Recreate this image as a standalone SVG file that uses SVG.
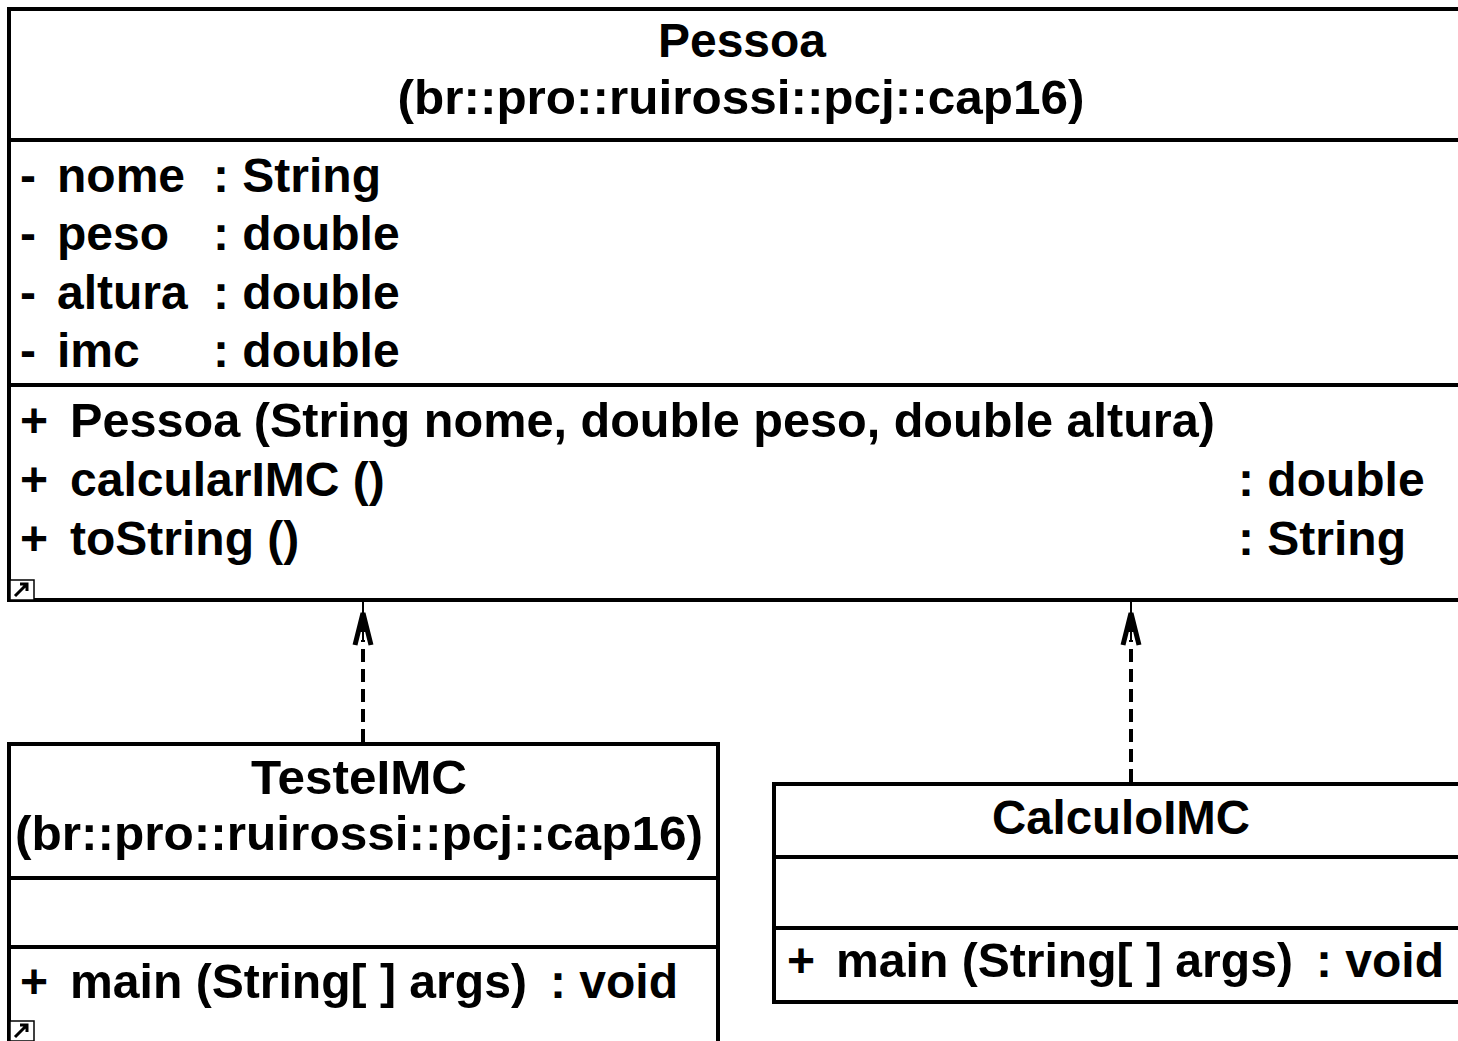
<svg xmlns="http://www.w3.org/2000/svg" width="1458" height="1041" viewBox="0 0 1458 1041">
<style>
text{font-family:"Liberation Sans",Arial,sans-serif;font-weight:bold;font-size:48px;fill:#000}
.c{text-anchor:middle}
.box{fill:#fff;stroke:#000;stroke-width:4}
.sep{stroke:#000;stroke-width:4}
.dash{stroke:#000;stroke-width:4;stroke-dasharray:13 7;fill:none}
.head{stroke:#000;stroke-width:5;fill:none;stroke-linejoin:miter}
.icon{fill:#fff;stroke:#000;stroke-width:1.5}
</style>
<rect width="1458" height="1041" fill="#fff"/>
<g id="Pessoa">
<rect class="box" x="9" y="9" width="1470" height="591"/>
<line class="sep" x1="9" y1="140" x2="1460" y2="140"/>
<line class="sep" x1="9" y1="385" x2="1460" y2="385"/>
<text class="c" x="742" y="57" textLength="168" lengthAdjust="spacingAndGlyphs">Pessoa</text>
<text class="c" x="741" y="114" textLength="687" lengthAdjust="spacingAndGlyphs">(br::pro::ruirossi::pcj::cap16)</text>
<text x="20" y="192">-</text><text x="57" y="192">nome</text><text x="213" y="192">: String</text>
<text x="20" y="250">-</text><text x="57" y="250">peso</text><text x="213" y="250">: double</text>
<text x="20" y="309">-</text><text x="57" y="309">altura</text><text x="213" y="309">: double</text>
<text x="20" y="367">-</text><text x="57" y="367">imc</text><text x="213" y="367">: double</text>
<text x="20" y="437">+</text><text x="70" y="437" textLength="1145" lengthAdjust="spacingAndGlyphs">Pessoa (String nome, double peso, double altura)</text>
<text x="20" y="496">+</text><text x="70" y="496">calcularIMC ()</text><text x="1238" y="496">: double</text>
<text x="20" y="555">+</text><text x="70" y="555">toString ()</text><text x="1238" y="555">: String</text>
<rect class="icon" x="10" y="580" width="24" height="20"/>
<path d="M15 596 L27 584 M20 584 L27 584 L27 591" stroke="#000" stroke-width="3" fill="none"/>
</g>
<g id="TesteIMC">
<rect class="box" x="9" y="744" width="709" height="300"/>
<line class="sep" x1="9" y1="878" x2="718" y2="878"/>
<line class="sep" x1="9" y1="947" x2="718" y2="947"/>
<text class="c" x="359" y="794" textLength="216" lengthAdjust="spacingAndGlyphs">TesteIMC</text>
<text class="c" x="359" y="850" textLength="688" lengthAdjust="spacingAndGlyphs">(br::pro::ruirossi::pcj::cap16)</text>
<text x="20" y="998">+</text><text x="70" y="998" textLength="457" lengthAdjust="spacingAndGlyphs">main (String[ ] args)</text><text x="550" y="998">: void</text>
<rect class="icon" x="10" y="1021" width="24" height="20"/>
<path d="M15 1037 L27 1025 M20 1025 L27 1025 L27 1032" stroke="#000" stroke-width="3" fill="none"/>
</g>
<g id="CalculoIMC">
<rect class="box" x="774" y="784" width="700" height="218"/>
<line class="sep" x1="774" y1="857" x2="1460" y2="857"/>
<line class="sep" x1="774" y1="928" x2="1460" y2="928"/>
<text class="c" x="1121" y="834" textLength="258" lengthAdjust="spacingAndGlyphs">CalculoIMC</text>
<text x="787" y="977">+</text><text x="836" y="977" textLength="457" lengthAdjust="spacingAndGlyphs">main (String[ ] args)</text><text x="1316" y="977">: void</text>
</g>
<g id="connectors">
<line class="dash" x1="363" y1="742" x2="363" y2="640"/>
<line x1="363" y1="602" x2="363" y2="640" stroke="#000" stroke-width="2"/>
<path class="head" d="M355 645 L363 613 L371 645"/>
<path d="M363 610 L357 632 L369 632 Z" fill="#000"/>
<line class="dash" x1="1131" y1="782" x2="1131" y2="640"/>
<line x1="1131" y1="602" x2="1131" y2="640" stroke="#000" stroke-width="2"/>
<path class="head" d="M1123 645 L1131 613 L1139 645"/>
<path d="M1131 610 L1125 632 L1137 632 Z" fill="#000"/>
</g>
</svg>
